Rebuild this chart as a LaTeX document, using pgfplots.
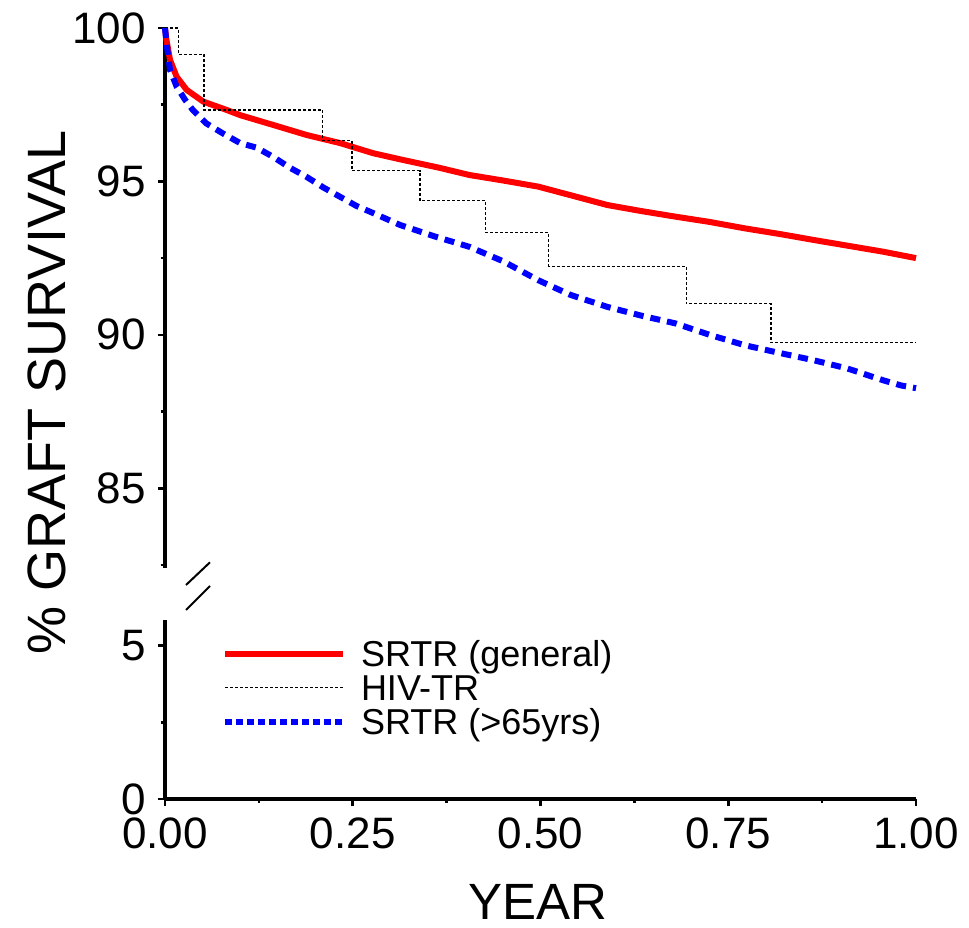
\documentclass[border=0pt]{standalone}
\usepackage{fontspec}
\setmainfont{Liberation Sans}
\usepackage{pgfplots}
\pgfplotsset{compat=1.18}

\begin{document}
\begin{tikzpicture}
\useasboundingbox (0,0) rectangle (484.5pt,463.5pt);
\pgfplotsset{
  brk/.style={
    scale only axis, width=375.5pt, xmin=0, xmax=1,
    axis line style={line width=2pt},
    tick style={line width=1.3pt, black},
    tick align=outside,
    major tick length=3.5pt, minor tick length=2pt,
    /pgf/number format/assume math mode=true,
    tick label style={font=\fontsize{22}{22}\selectfont},
    yticklabel style={xshift=-2.5pt},
    clip=false,
  }
}
\begin{axis}[brk, at={(82.5pt,179.5pt)}, anchor=south west, height=270pt,
  ymin=82.4, ymax=100,
  axis x line=none, axis y line*=left,
  ytick={85,90,95,100}, minor ytick={82.5,87.5,92.5,97.5}]
\addplot[red, line width=3pt] coordinates {
(0,100) (0.002,99.6) (0.0067,98.96) (0.0155,98.41) (0.029,97.98) (0.051,97.6)
(0.082,97.33) (0.1,97.16) (0.144,96.84) (0.189,96.51) (0.233,96.25) (0.277,95.92)
(0.313,95.72) (0.366,95.44) (0.405,95.21) (0.45,95.03) (0.497,94.83) (0.54,94.55)
(0.589,94.23) (0.635,94.03) (0.680,93.85) (0.725,93.68) (0.772,93.47) (0.82,93.28)
(0.864,93.09) (0.91,92.9) (0.956,92.71) (1.0,92.5)};
\addplot[black, line width=0.6pt, dash pattern=on 1.5pt off 1pt, const plot] coordinates {
(0,100) (0.0177,99.14) (0.052,97.33) (0.21,96.33) (0.249,95.35) (0.3395,94.37)
(0.427,93.33) (0.511,92.23) (0.694,91.02) (0.807,89.74) (1.0,89.74)};
\addplot[blue, line width=3pt, dash pattern=on 5pt off 3.5pt] coordinates {
(0,100) (0.002,99.5) (0.0067,98.63) (0.0155,98.09) (0.027,97.65) (0.037,97.33)
(0.055,96.89) (0.078,96.55) (0.1,96.25) (0.122,96.1) (0.144,95.8) (0.166,95.45)
(0.189,95.14) (0.211,94.8) (0.233,94.5) (0.255,94.2) (0.277,93.97) (0.313,93.58)
(0.36,93.2) (0.405,92.87) (0.45,92.4) (0.497,91.78) (0.54,91.3) (0.589,90.91)
(0.635,90.62) (0.680,90.37) (0.725,90.0) (0.772,89.66) (0.82,89.4) (0.864,89.17)
(0.909,88.9) (0.956,88.52) (0.98,88.35) (1.0,88.26)};
\end{axis}
\begin{axis}[brk, at={(82.5pt,64pt)}, anchor=south west, height=89.7pt,
  ymin=0, ymax=5.85,
  axis x line*=bottom, axis y line*=left,
  ytick={0,5}, minor ytick={2.5},
  xtick={0,0.25,0.5,0.75,1}, minor xtick={0.125,0.375,0.625,0.875},
  xticklabel style={yshift=-2.5pt, /pgf/number format/.cd, fixed, fixed zerofill, precision=2},
  legend style={draw=none, fill=none, at={(axis cs:0.0759,5.29)}, anchor=north west,
    font=\fontsize{18}{18}\selectfont, inner sep=0pt, outer sep=0pt,
    row sep=0pt, column sep=7.5pt,
    nodes={inner sep=0pt, text height=15pt, text depth=2pt}},
  legend cell align=left,
  legend image code/.code={\draw[#1] (0pt,0pt) -- (59pt,0pt);}]
\addlegendimage{red, line width=3pt}
\addlegendentry{SRTR (general)}
\addlegendimage{black, line width=0.6pt, dash pattern=on 1.5pt off 1pt}
\addlegendentry{HIV-TR}
\addlegendimage{blue, line width=3pt, dash pattern=on 3.5pt off 2pt}
\addlegendentry{SRTR (>65yrs)}
\end{axis}
\draw[line width=1pt] (93pt,171pt) -- (105pt,182.35pt);
\draw[line width=1pt] (93pt,158.5pt) -- (105pt,170.5pt);
\node[rotate=90, anchor=base, font=\fontsize{27}{27}\selectfont] at (32.5pt,267.25pt) {\% GRAFT SURVIVAL};
\node[anchor=base, font=\fontsize{25.5}{25.5}\selectfont] at (269pt,4pt) {YEAR};
\end{tikzpicture}
\end{document}
